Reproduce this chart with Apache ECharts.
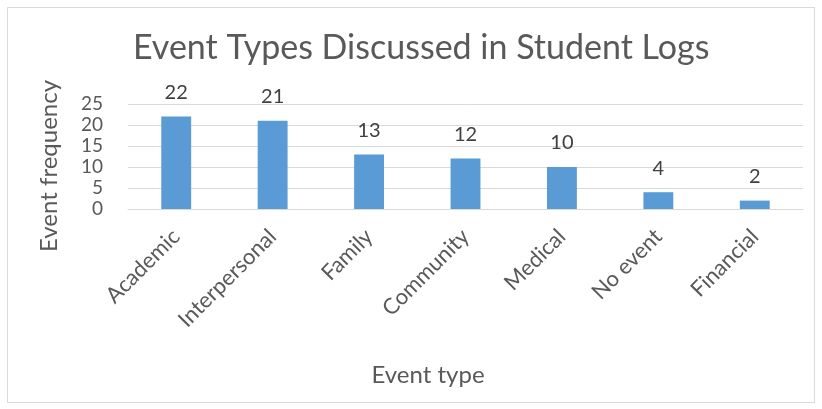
<!DOCTYPE html>
<html>
<head>
<meta charset="utf-8">
<script src="https://cdn.jsdelivr.net/npm/echarts@6/dist/echarts.min.js"></script>
<style>
  html, body { margin: 0; padding: 0; background: #fff; }
  #chart { width: 822px; height: 409px; }
</style>
</head>
<body>
<div id="chart"></div>
<script>
// Event categories and how often each came up in the logs
const categories = ['Academic', 'Interpersonal', 'Family', 'Community', 'Medical', 'No event', 'Financial'];
const frequencies = [22, 21, 13, 12, 10, 4, 2];
const yTicks = { min: 0, max: 25, interval: 5 };

const FONT = 'Lato, "Open Sans", sans-serif';
const TEXT = '#595959';
const GRID = '#d9d9d9';

const chart = echarts.init(document.getElementById('chart'), null, { renderer: 'canvas' });
chart.setOption({
  animation: false,
  backgroundColor: '#ffffff',
  graphic: [
    {
      // chart frame
      type: 'rect',
      shape: { x: 7.5, y: 7.5, width: 807, height: 395 },
      style: { fill: 'none', stroke: GRID, lineWidth: 1 },
      silent: true
    },
    {
      // y axis title
      type: 'text',
      x: 49, y: 166,
      rotation: Math.PI / 2,
      style: {
        text: 'Event frequency',
        fontFamily: FONT, fontSize: 24, fill: TEXT,
        align: 'center', verticalAlign: 'middle'
      },
      silent: true
    },
    {
      // x axis title
      type: 'text',
      x: 428, y: 375,
      style: {
        text: 'Event type',
        fontFamily: FONT, fontSize: 24, fill: TEXT,
        align: 'center', verticalAlign: 'middle'
      },
      silent: true
    }
  ],
  title: {
    text: 'Event Types Discussed in Student Logs',
    left: 128,
    top: 26,
    textStyle: { fontFamily: FONT, fontSize: 34, fontWeight: 'normal', color: TEXT }
  },
  grid: { left: 128, right: 19, top: 104, bottom: 200, containLabel: false },
  xAxis: {
    type: 'category',
    data: categories,
    axisLine: { lineStyle: { color: GRID, width: 1 } },
    axisTick: { show: false },
    axisLabel: {
      rotate: 45,
      margin: 24,
      fontFamily: FONT,
      fontSize: 22,
      color: TEXT,
      interval: 0
    }
  },
  yAxis: {
    type: 'value',
    min: yTicks.min,
    max: yTicks.max,
    interval: yTicks.interval,
    axisLine: { show: false },
    axisTick: { show: false },
    splitLine: { lineStyle: { color: GRID, width: 1 } },
    axisLabel: { fontFamily: FONT, fontSize: 19, color: TEXT, margin: 25 }
  },
  series: [{
    type: 'bar',
    data: frequencies,
    barWidth: '31%',
    itemStyle: { color: '#5b9bd5' },
    label: {
      show: true,
      position: 'top',
      distance: 14,
      fontFamily: FONT,
      fontSize: 20,
      color: '#404040'
    }
  }]
});
</script>
</body>
</html>
